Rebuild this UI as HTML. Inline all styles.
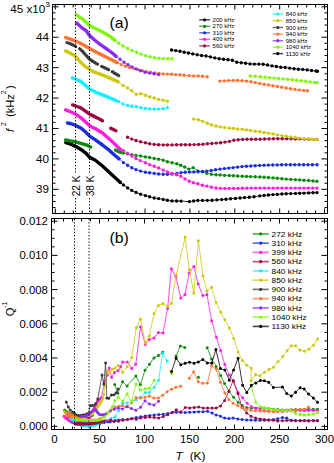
<!DOCTYPE html><html><head><meta charset="utf-8"><style>html,body{margin:0;padding:0;background:#fff;overflow:hidden}svg{display:block}text{font-family:"Liberation Sans",sans-serif}</style></head><body>
<svg width="334" height="463" viewBox="0 0 334 463">
<rect width="334" height="463" fill="#fff"/>
<polyline points="65.8,142.6 69.2,143.5 75.1,146.1 80.9,149.4 86.1,153.3 89.7,157.4 95,160 102.5,166 110,173 117.4,179.7 120.4,182.4" fill="none" stroke="#000000" stroke-width="3.4" stroke-linecap="round" stroke-linejoin="round"/><polyline points="120.4,182.4 123.4,184.9 127.6,187.9 131.8,190.4 136,192.5 140.6,194.2 145.4,195.6 149.6,196.7 154.2,198 158.6,198.6 163.2,199.4 167.4,200.3 172,200.9 176.6,201 181,201.1" fill="none" stroke="#000000" stroke-width="0.8"/><path d="M120.4 182.4h0M123.4 184.9h0M127.6 187.9h0M131.8 190.4h0M136 192.5h0M140.6 194.2h0M145.4 195.6h0M149.6 196.7h0M154.2 198h0M158.6 198.6h0M163.2 199.4h0M167.4 200.3h0M172 200.9h0M176.6 201h0M181 201.1h0" fill="none" stroke="#000000" stroke-width="3.4" stroke-linecap="round"/><polyline points="181,201.1 189.4,201.6" fill="none" stroke="#000000" stroke-width="0.8"/><polyline points="189.4,201.6 193.6,201 197.8,200.4 202.5,200.4 207.3,200.4 212.1,200.3 216.9,199.9 221.7,199.6 226,199.2 230.6,198.7 235.4,198.4 240.1,198 244.5,197.6 249.3,197.2 254,196.8 259.8,195.9 264.1,195.4 268.4,195 273,194.6 277.3,194.4 281.9,194 286.2,193.7 290.8,193.6 295.4,193.4 299.7,193.2 304,193.1 308.6,192.9 313,192.7 317,192.6" fill="none" stroke="#000000" stroke-width="0.8"/><path d="M189.4 201.6h0M193.6 201h0M197.8 200.4h0M202.5 200.4h0M207.3 200.4h0M212.1 200.3h0M216.9 199.9h0M221.7 199.6h0M226 199.2h0M230.6 198.7h0M235.4 198.4h0M240.1 198h0M244.5 197.6h0M249.3 197.2h0M254 196.8h0M259.8 195.9h0M264.1 195.4h0M268.4 195h0M273 194.6h0M277.3 194.4h0M281.9 194h0M286.2 193.7h0M290.8 193.6h0M295.4 193.4h0M299.7 193.2h0M304 193.1h0M308.6 192.9h0M313 192.7h0M317 192.6h0" fill="none" stroke="#000000" stroke-width="3.4" stroke-linecap="round"/>
<polyline points="65.6,139.9 70.5,141 75.7,141.9 80.9,143.3 86.1,144.8 90.6,147" fill="none" stroke="#0a8c0a" stroke-width="3.4" stroke-linecap="round" stroke-linejoin="round"/><polyline points="115.6,150.1 120.4,152.3" fill="none" stroke="#0a8c0a" stroke-width="3.4" stroke-linecap="round" stroke-linejoin="round"/><polyline points="120.4,152.3 123.4,153.1 127.6,153.9 131.8,154.8 136,155.4 140.6,156 145.4,156.9 149.6,157.5 154.2,158.5 158.6,159.2 163.2,160.2 167.4,161.7 172,162.7 176.8,163.8 180.6,165.2 184.6,167 188.8,169.1 193.2,167.6 197.8,171 202.4,171.8 206.8,173.3 211.4,174.3 216,174.8 220.2,175 224.6,175.4 229.3,175.5 233.4,175.8 237.6,176 242.3,176.3 246.5,176.4 250.6,176.6 255.2,176.7 259.8,177 264.1,177.2 268.4,177.5 273,177.9 277.3,178.2 281.9,178.7 286.2,179.1 290.8,179.4 295.4,179.7 299.7,179.9 304,180.2 308.6,180.5 313,181 317,181.2" fill="none" stroke="#0a8c0a" stroke-width="0.8"/><path d="M120.4 152.3h0M123.4 153.1h0M127.6 153.9h0M131.8 154.8h0M136 155.4h0M140.6 156h0M145.4 156.9h0M149.6 157.5h0M154.2 158.5h0M158.6 159.2h0M163.2 160.2h0M167.4 161.7h0M172 162.7h0M176.8 163.8h0M180.6 165.2h0M184.6 167h0M188.8 169.1h0M193.2 167.6h0M197.8 171h0M202.4 171.8h0M206.8 173.3h0M211.4 174.3h0M216 174.8h0M220.2 175h0M224.6 175.4h0M229.3 175.5h0M233.4 175.8h0M237.6 176h0M242.3 176.3h0M246.5 176.4h0M250.6 176.6h0M255.2 176.7h0M259.8 177h0M264.1 177.2h0M268.4 177.5h0M273 177.9h0M277.3 178.2h0M281.9 178.7h0M286.2 179.1h0M290.8 179.4h0M295.4 179.7h0M299.7 179.9h0M304 180.2h0M308.6 180.5h0M313 181h0M317 181.2h0" fill="none" stroke="#0a8c0a" stroke-width="3.4" stroke-linecap="round"/>
<polyline points="67.5,123 70.5,123.5 75.7,125.4 80.9,128 86.1,132.5 90,136.4 95,139.7 102.5,145 110,150.9 114.5,155 118.9,158.7" fill="none" stroke="#1a2ee0" stroke-width="3.4" stroke-linecap="round" stroke-linejoin="round"/><polyline points="118.9,158.7 123.4,162.6 127.6,165.2 131.8,167.8 136,169.6 140.6,171.1 145.4,172.2 149.6,172.8 154.2,173.4 158.6,174 163.2,174.2 167.4,174.2 172,174 176.8,173.5 181,172.6 185.2,172.2 189.6,172.1 193.8,171.9 198.2,171.7 202.6,171.5 206.8,171.1 211.2,170.5 215.6,169.8 220,169.1 224.4,168.6 228.8,168.1 233.2,167.6 237.6,167.1 242,166.6 246.4,166.2 250.8,166 255.2,165.7 259.6,165.4 264,165.2 268.4,165.1 272.8,165 277.2,164.9 281.6,164.8 286,164.7 290.4,164.7 294.8,164.7 299.2,164.7 303.6,164.7 308,164.7 312.4,164.7 317,164.7" fill="none" stroke="#1a2ee0" stroke-width="0.8"/><path d="M118.9 158.7h0M123.4 162.6h0M127.6 165.2h0M131.8 167.8h0M136 169.6h0M140.6 171.1h0M145.4 172.2h0M149.6 172.8h0M154.2 173.4h0M158.6 174h0M163.2 174.2h0M167.4 174.2h0M172 174h0M176.8 173.5h0M181 172.6h0M185.2 172.2h0M189.6 172.1h0M193.8 171.9h0M198.2 171.7h0M202.6 171.5h0M206.8 171.1h0M211.2 170.5h0M215.6 169.8h0M220 169.1h0M224.4 168.6h0M228.8 168.1h0M233.2 167.6h0M237.6 167.1h0M242 166.6h0M246.4 166.2h0M250.8 166h0M255.2 165.7h0M259.6 165.4h0M264 165.2h0M268.4 165.1h0M272.8 165h0M277.2 164.9h0M281.6 164.8h0M286 164.7h0M290.4 164.7h0M294.8 164.7h0M299.2 164.7h0M303.6 164.7h0M308 164.7h0M312.4 164.7h0M317 164.7h0" fill="none" stroke="#1a2ee0" stroke-width="3.4" stroke-linecap="round"/>
<polyline points="65.6,109.8 69.2,111.2 75.1,113.8 80.9,117.7 86.1,122.6 90,126.1 95,128.5 102.5,133 110,139.5 115,144.2 120.4,149.4" fill="none" stroke="#ff1ee0" stroke-width="3.4" stroke-linecap="round" stroke-linejoin="round"/><polyline points="120.4,149.4 123.4,150.6 127.6,153.3 131.8,156 136,158.5 140.2,160.6 145.4,162.7 149.6,164.6 154.2,166.3 158.6,168 163.2,170.1 167.4,172 172,173.5 176.6,174.7 180.8,176.2 185,178.9 189.2,181.2 193.4,182.7 197.8,183.8 202.4,185.2 206.8,186.1 211.4,187.3 216,188 220.4,188.4 224.8,188.4 229.2,188.4 233.6,188.4 238,188.4 242.4,188.3 246.8,188.2 251.2,188.1 255.6,188.1 260,188.1 264.4,188.1 268.8,188.1 273.2,188.1 277.6,188.1 282,188.1 286.4,188.1 290.8,188.1 295.2,188.1 299.6,188.1 304,188.1 308.4,188.1 312.8,188.1 317,188.1" fill="none" stroke="#ff1ee0" stroke-width="0.8"/><path d="M120.4 149.4h0M123.4 150.6h0M127.6 153.3h0M131.8 156h0M136 158.5h0M140.2 160.6h0M145.4 162.7h0M149.6 164.6h0M154.2 166.3h0M158.6 168h0M163.2 170.1h0M167.4 172h0M172 173.5h0M176.6 174.7h0M180.8 176.2h0M185 178.9h0M189.2 181.2h0M193.4 182.7h0M197.8 183.8h0M202.4 185.2h0M206.8 186.1h0M211.4 187.3h0M216 188h0M220.4 188.4h0M224.8 188.4h0M229.2 188.4h0M233.6 188.4h0M238 188.4h0M242.4 188.3h0M246.8 188.2h0M251.2 188.1h0M255.6 188.1h0M260 188.1h0M264.4 188.1h0M268.8 188.1h0M273.2 188.1h0M277.6 188.1h0M282 188.1h0M286.4 188.1h0M290.8 188.1h0M295.2 188.1h0M299.6 188.1h0M304 188.1h0M308.4 188.1h0M312.8 188.1h0M317 188.1h0" fill="none" stroke="#ff1ee0" stroke-width="3.4" stroke-linecap="round"/>
<polyline points="72.6,104.9 75.7,106 80.9,107.9 86.1,111.6 90,114.4 94.5,116.6 98.5,118.6 102.5,120.7" fill="none" stroke="#9c0a44" stroke-width="3.4" stroke-linecap="round" stroke-linejoin="round"/><polyline points="110.7,128.2 115.9,130.7" fill="none" stroke="#9c0a44" stroke-width="3.4" stroke-linecap="round" stroke-linejoin="round"/><polyline points="127.6,137.2 131.8,139.1 136,140.5 140.6,141.8 145.4,142.8 149.6,143.7 154.2,144.4 158.6,144.8 163.2,144.9 167.4,144.9 172,144.9 176.6,144.8 181,144.7 185.4,144.7 189.8,144.7 194.2,144.6 198.6,144.5 203,144.2 207.4,143.8 211.8,143.5 216.2,143.1 220.6,142.7 225,142.1 229.4,141.4 233.8,140.3 238.2,139.7 242.6,139.4 247,139.2 251.4,139.3 255.8,139.3 260.2,139.2 264.6,139 269,138.9 273.4,138.8 277.8,138.7 282.2,138.7 286.6,138.7 291,138.8 295.4,138.9 299.8,138.9 304.2,139.1 308.6,139.3 313,139.4 317,139.4" fill="none" stroke="#9c0a44" stroke-width="0.8"/><path d="M127.6 137.2h0M131.8 139.1h0M136 140.5h0M140.6 141.8h0M145.4 142.8h0M149.6 143.7h0M154.2 144.4h0M158.6 144.8h0M163.2 144.9h0M167.4 144.9h0M172 144.9h0M176.6 144.8h0M181 144.7h0M185.4 144.7h0M189.8 144.7h0M194.2 144.6h0M198.6 144.5h0M203 144.2h0M207.4 143.8h0M211.8 143.5h0M216.2 143.1h0M220.6 142.7h0M225 142.1h0M229.4 141.4h0M233.8 140.3h0M238.2 139.7h0M242.6 139.4h0M247 139.2h0M251.4 139.3h0M255.8 139.3h0M260.2 139.2h0M264.6 139h0M269 138.9h0M273.4 138.8h0M277.8 138.7h0M282.2 138.7h0M286.6 138.7h0M291 138.8h0M295.4 138.9h0M299.8 138.9h0M304.2 139.1h0M308.6 139.3h0M313 139.4h0M317 139.4h0" fill="none" stroke="#9c0a44" stroke-width="3.4" stroke-linecap="round"/>
<polyline points="72.3,77.9 74,78.5 77.2,79.9 80.3,81 84,84.2 89.7,89 96,92.3 104.4,95.6 112,98.8 116,100.6" fill="none" stroke="#10f0ff" stroke-width="3.4" stroke-linecap="round" stroke-linejoin="round"/><polyline points="116,100.6 118.6,101.6 123,103.9 127.6,105.4 131.8,106.3 136.4,106.8 140.8,107.6 145.4,108.4 149.6,108.9 154.2,109.1 158.6,109.1 163.2,108.7 167.4,107.6" fill="none" stroke="#10f0ff" stroke-width="0.8"/><path d="M116 100.6h0M118.6 101.6h0M123 103.9h0M127.6 105.4h0M131.8 106.3h0M136.4 106.8h0M140.8 107.6h0M145.4 108.4h0M149.6 108.9h0M154.2 109.1h0M158.6 109.1h0M163.2 108.7h0M167.4 107.6h0" fill="none" stroke="#10f0ff" stroke-width="3.4" stroke-linecap="round"/>
<polyline points="65.5,50.9 70,53 74.8,55.8 78.2,59.3 81,62.8 85,66.3 89.7,69.4 91,70.6 97,73 104.4,75.7 111,78.6 118,81.8" fill="none" stroke="#cdc80a" stroke-width="3.4" stroke-linecap="round" stroke-linejoin="round"/><polyline points="118,81.8 123.2,85.4 127.6,87.9 131.8,90.8 136.2,94.2 140.8,93.8 145.4,95.3 149.6,96.8 154.2,98 158.6,99.5 163.2,100.3 167.4,101.3" fill="none" stroke="#cdc80a" stroke-width="0.8"/><path d="M118 81.8h0M123.2 85.4h0M127.6 87.9h0M131.8 90.8h0M136.2 94.2h0M140.8 93.8h0M145.4 95.3h0M149.6 96.8h0M154.2 98h0M158.6 99.5h0M163.2 100.3h0M167.4 101.3h0" fill="none" stroke="#cdc80a" stroke-width="3.4" stroke-linecap="round"/><polyline points="193.6,119.1 198.4,119.7 202.6,121.2 207.2,123.3 211.4,124.8 216,126 220.2,126.9 224.6,127.5 229.3,128.1 233.4,128.5 237.6,129 242.3,129.3 246.5,129.9 250.6,130.5 255.2,131.2 259.8,131.8 264.1,132.5 268.4,133.1 273,133.9 277.3,134.9 281.9,135.6 286.2,136.3 290.8,136.9 295.4,137.4 299.7,138.1 304,138.6 308.6,138.9 313,139.4 317,139.5" fill="none" stroke="#cdc80a" stroke-width="0.8"/><path d="M193.6 119.1h0M198.4 119.7h0M202.6 121.2h0M207.2 123.3h0M211.4 124.8h0M216 126h0M220.2 126.9h0M224.6 127.5h0M229.3 128.1h0M233.4 128.5h0M237.6 129h0M242.3 129.3h0M246.5 129.9h0M250.6 130.5h0M255.2 131.2h0M259.8 131.8h0M264.1 132.5h0M268.4 133.1h0M273 133.9h0M277.3 134.9h0M281.9 135.6h0M286.2 136.3h0M290.8 136.9h0M295.4 137.4h0M299.7 138.1h0M304 138.6h0M308.6 138.9h0M313 139.4h0M317 139.5h0" fill="none" stroke="#cdc80a" stroke-width="3.4" stroke-linecap="round"/>
<polyline points="67,42.6 70.5,43.8 73,45 75.8,46.5" fill="none" stroke="#3a3a3a" stroke-width="3.1" stroke-linecap="round" stroke-linejoin="round"/><polyline points="79.6,48.7 82,50.8 85.5,54.7 89,58.6 92.5,61.2 96,63.3 97.6,64.1" fill="none" stroke="#3a3a3a" stroke-width="3.1" stroke-linecap="round" stroke-linejoin="round"/><polyline points="101.6,66.3 106,68.4 108.6,69.7" fill="none" stroke="#3a3a3a" stroke-width="3.1" stroke-linecap="round" stroke-linejoin="round"/><polyline points="112.2,71.6 114,72.8 118.8,75.7" fill="none" stroke="#3a3a3a" stroke-width="3.1" stroke-linecap="round" stroke-linejoin="round"/>
<polyline points="65.6,37.6 69,38.6 74.9,40.8 80,43 85,45.7 89.7,48.6 95,51.6 103,55.6 112,60 117,62.5" fill="none" stroke="#ff7434" stroke-width="3.4" stroke-linecap="round" stroke-linejoin="round"/><polyline points="117,62.5 121.2,64.6 125.4,66.3 129.6,67.6 133.8,68.6 138,69.6 142.2,70.6 146.4,71.6 150.6,72.3 154.8,73 159,73.5 163.2,73.9 167.4,74.1 171.6,74.3 175.8,74.6 180,74.8 184.2,75.2 189,75.6 193.6,75.9 198.2,76 202.6,76.3 207.2,76.7" fill="none" stroke="#ff7434" stroke-width="0.8"/><path d="M117 62.5h0M121.2 64.6h0M125.4 66.3h0M129.6 67.6h0M133.8 68.6h0M138 69.6h0M142.2 70.6h0M146.4 71.6h0M150.6 72.3h0M154.8 73h0M159 73.5h0M163.2 73.9h0M167.4 74.1h0M171.6 74.3h0M175.8 74.6h0M180 74.8h0M184.2 75.2h0M189 75.6h0M193.6 75.9h0M198.2 76h0M202.6 76.3h0M207.2 76.7h0" fill="none" stroke="#ff7434" stroke-width="3.4" stroke-linecap="round"/><polyline points="219.8,81.1 224.4,80.9 228.6,80.6 233.2,80.4 237.6,80.5 242.1,80.8 246.5,81.1 250.9,81.8 255.3,82.6 259.7,83.5 264.1,84.2 268.5,84.9 272.9,85.7 277.3,86.5 281.7,87.2 286.1,88 290.5,88.7 294.9,89.4 299.3,89.9 303.7,90.4 307.4,90.8" fill="none" stroke="#ff7434" stroke-width="0.8"/><path d="M219.8 81.1h0M224.4 80.9h0M228.6 80.6h0M233.2 80.4h0M237.6 80.5h0M242.1 80.8h0M246.5 81.1h0M250.9 81.8h0M255.3 82.6h0M259.7 83.5h0M264.1 84.2h0M268.5 84.9h0M272.9 85.7h0M277.3 86.5h0M281.7 87.2h0M286.1 88h0M290.5 88.7h0M294.9 89.4h0M299.3 89.9h0M303.7 90.4h0M307.4 90.8h0" fill="none" stroke="#ff7434" stroke-width="3.4" stroke-linecap="round"/>
<polyline points="76.6,23 79,25.2 82,27.8 86,30.5 89.5,35.5 94,39.5 98.5,43.2 103,46.4 107.5,49.5 112,52.8 116,56.2" fill="none" stroke="#8a2cf2" stroke-width="3.4" stroke-linecap="round" stroke-linejoin="round"/><polyline points="116,56.2 120,59.3 124,62.3 128,64.8 132,66.9 136.1,68.9 140.5,70.8 145,72.2 149.5,73.1 154,73.8 158.6,74.6" fill="none" stroke="#8a2cf2" stroke-width="0.8"/><path d="M116 56.2h0M120 59.3h0M124 62.3h0M128 64.8h0M132 66.9h0M136.1 68.9h0M140.5 70.8h0M145 72.2h0M149.5 73.1h0M154 73.8h0M158.6 74.6h0" fill="none" stroke="#8a2cf2" stroke-width="3.4" stroke-linecap="round"/>
<polyline points="76.2,14.8 78.5,16.3 81.6,18.4 85,21.2 88.7,24.7 89.6,25.6 94,27.7 103,32.2 110,36.4 114.8,40.2" fill="none" stroke="#80f808" stroke-width="3.4" stroke-linecap="round" stroke-linejoin="round"/><polyline points="114.8,40.2 118.6,43.2 123.1,46 127.6,48.5 132,50.5 136.6,52.3 141,54.1 145.5,55.6 150,56.8 154.5,57.7 159,58.3 163.5,58.6 168,58.7 172,58.7" fill="none" stroke="#80f808" stroke-width="0.8"/><path d="M114.8 40.2h0M118.6 43.2h0M123.1 46h0M127.6 48.5h0M132 50.5h0M136.6 52.3h0M141 54.1h0M145.5 55.6h0M150 56.8h0M154.5 57.7h0M159 58.3h0M163.5 58.6h0M168 58.7h0M172 58.7h0" fill="none" stroke="#80f808" stroke-width="3.4" stroke-linecap="round"/><polyline points="250.1,76 255.2,76.3 260.3,76.8 265.1,77.3 269.6,77.6 274.1,78.1 278.6,78.5 283.1,78.9 287.6,79.3 292.1,79.7 296.6,80.2 301.1,80.7 305.6,81.3 310.1,81.9 314.6,82.4 317.2,82.7" fill="none" stroke="#80f808" stroke-width="0.8"/><path d="M250.1 76h0M255.2 76.3h0M260.3 76.8h0M265.1 77.3h0M269.6 77.6h0M274.1 78.1h0M278.6 78.5h0M283.1 78.9h0M287.6 79.3h0M292.1 79.7h0M296.6 80.2h0M301.1 80.7h0M305.6 81.3h0M310.1 81.9h0M314.6 82.4h0M317.2 82.7h0" fill="none" stroke="#80f808" stroke-width="3.4" stroke-linecap="round"/>
<polyline points="171.6,50 175.8,50.6 180,51.3 184.2,52.2 188.4,53 192.8,53.9 197.2,54.7 201.6,55.5 206,56 210.4,56.9 214.8,57.9 219.2,58.7 223.6,59.3 228,59.8 232.4,60.2 236.8,62.3 241.2,62.7 245.6,63.3 250,63.9 254.4,64.1 258.8,64.1 263.2,64.3 267.6,65 272,65.9 276.4,66.5 280.8,67.2 285.2,67.5 289.6,68.1 294,68.8 298.4,69.2 302.8,69.4 307.2,69.9 311.6,70.5 316,71 317.5,71.2" fill="none" stroke="#000000" stroke-width="0.8"/><path d="M171.6 50h0M175.8 50.6h0M180 51.3h0M184.2 52.2h0M188.4 53h0M192.8 53.9h0M197.2 54.7h0M201.6 55.5h0M206 56h0M210.4 56.9h0M214.8 57.9h0M219.2 58.7h0M223.6 59.3h0M228 59.8h0M232.4 60.2h0M236.8 62.3h0M241.2 62.7h0M245.6 63.3h0M250 63.9h0M254.4 64.1h0M258.8 64.1h0M263.2 64.3h0M267.6 65h0M272 65.9h0M276.4 66.5h0M280.8 67.2h0M285.2 67.5h0M289.6 68.1h0M294 68.8h0M298.4 69.2h0M302.8 69.4h0M307.2 69.9h0M311.6 70.5h0M316 71h0M317.5 71.2h0" fill="none" stroke="#000000" stroke-width="3.4" stroke-linecap="round"/>
<line x1="199.2" y1="19.8" x2="210" y2="19.8" stroke="#000000" stroke-width="1.4" stroke-opacity="0.75"/>
<circle cx="204.6" cy="19.8" r="1.6" fill="#000000"/>
<text transform="translate(212.6,21.96) scale(0.99,1)" font-size="6" fill="#000">200 kHz</text>
<line x1="199.2" y1="26.3" x2="210" y2="26.3" stroke="#0a8c0a" stroke-width="1.4" stroke-opacity="0.75"/>
<circle cx="204.6" cy="26.3" r="1.6" fill="#0a8c0a"/>
<text transform="translate(212.6,28.46) scale(0.99,1)" font-size="6" fill="#000">270 kHz</text>
<line x1="199.2" y1="32.8" x2="210" y2="32.8" stroke="#1a2ee0" stroke-width="1.4" stroke-opacity="0.75"/>
<circle cx="204.6" cy="32.8" r="1.6" fill="#1a2ee0"/>
<text transform="translate(212.6,34.96) scale(0.99,1)" font-size="6" fill="#000">310 kHz</text>
<line x1="199.2" y1="39.3" x2="210" y2="39.3" stroke="#ff1ee0" stroke-width="1.4" stroke-opacity="0.75"/>
<circle cx="204.6" cy="39.3" r="1.6" fill="#ff1ee0"/>
<text transform="translate(212.6,41.46) scale(0.99,1)" font-size="6" fill="#000">400 kHz</text>
<line x1="199.2" y1="45.9" x2="210" y2="45.9" stroke="#9c0a44" stroke-width="1.4" stroke-opacity="0.75"/>
<circle cx="204.6" cy="45.9" r="1.6" fill="#9c0a44"/>
<text transform="translate(212.6,48.06) scale(0.99,1)" font-size="6" fill="#000">560 kHz</text>
<line x1="272.7" y1="14" x2="283" y2="14" stroke="#10f0ff" stroke-width="1.4" stroke-opacity="0.75"/>
<circle cx="277.8" cy="14" r="1.6" fill="#10f0ff"/>
<text transform="translate(285.8,16.16) scale(0.99,1)" font-size="6" fill="#000">840 kHz</text>
<line x1="272.7" y1="20.7" x2="283" y2="20.7" stroke="#cdc80a" stroke-width="1.4" stroke-opacity="0.75"/>
<circle cx="277.8" cy="20.7" r="1.6" fill="#cdc80a"/>
<text transform="translate(285.8,22.86) scale(0.99,1)" font-size="6" fill="#000">850 kHz</text>
<line x1="272.7" y1="27.5" x2="283" y2="27.5" stroke="#3a3a3a" stroke-width="1.4" stroke-opacity="0.75"/>
<circle cx="277.8" cy="27.5" r="1.6" fill="#3a3a3a"/>
<text transform="translate(285.8,29.66) scale(0.99,1)" font-size="6" fill="#000">900 kHz</text>
<line x1="272.7" y1="34.1" x2="283" y2="34.1" stroke="#ff7434" stroke-width="1.4" stroke-opacity="0.75"/>
<circle cx="277.8" cy="34.1" r="1.6" fill="#ff7434"/>
<text transform="translate(285.8,36.26) scale(0.99,1)" font-size="6" fill="#000">940 kHz</text>
<line x1="272.7" y1="40.7" x2="283" y2="40.7" stroke="#8a2cf2" stroke-width="1.4" stroke-opacity="0.75"/>
<circle cx="277.8" cy="40.7" r="1.6" fill="#8a2cf2"/>
<text transform="translate(285.8,42.86) scale(0.99,1)" font-size="6" fill="#000">980 kHz</text>
<line x1="272.7" y1="47.2" x2="283" y2="47.2" stroke="#80f808" stroke-width="1.4" stroke-opacity="0.75"/>
<circle cx="277.8" cy="47.2" r="1.6" fill="#80f808"/>
<text transform="translate(285.8,49.36) scale(0.99,1)" font-size="6" fill="#000">1040 kHz</text>
<line x1="272.7" y1="53.6" x2="283" y2="53.6" stroke="#000000" stroke-width="1.4" stroke-opacity="0.75"/>
<circle cx="277.8" cy="53.6" r="1.6" fill="#000000"/>
<text transform="translate(285.8,55.76) scale(0.99,1)" font-size="6" fill="#000">1130 kHz</text>
<line x1="75.5" y1="5" x2="75.5" y2="174" stroke="#000" stroke-width="1" stroke-dasharray="1.3,1.9"/>
<line x1="75.5" y1="198" x2="75.5" y2="213" stroke="#000" stroke-width="1" stroke-dasharray="1.3,1.9"/>
<line x1="89.5" y1="5" x2="89.5" y2="174" stroke="#000" stroke-width="1" stroke-dasharray="1.3,1.9"/>
<line x1="89.5" y1="198" x2="89.5" y2="213" stroke="#000" stroke-width="1" stroke-dasharray="1.3,1.9"/>
<text transform="translate(79.6,196.3) rotate(-90)" font-size="10.2" fill="#000">22 K</text>
<text transform="translate(94.0,196.3) rotate(-90)" font-size="10.2" fill="#000">38 K</text>
<rect x="52.5" y="4.5" width="275" height="209" fill="none" stroke="#000" stroke-width="1"/>
<path d="M55.3 213.5v-5M55.3 4.5v5M64.27 213.5v-3M64.27 4.5v3M73.25 213.5v-3M73.25 4.5v3M82.22 213.5v-3M82.22 4.5v3M91.2 213.5v-3M91.2 4.5v3M100.17 213.5v-5M100.17 4.5v5M109.15 213.5v-3M109.15 4.5v3M118.12 213.5v-3M118.12 4.5v3M127.1 213.5v-3M127.1 4.5v3M136.07 213.5v-3M136.07 4.5v3M145.05 213.5v-5M145.05 4.5v5M154.02 213.5v-3M154.02 4.5v3M163 213.5v-3M163 4.5v3M171.97 213.5v-3M171.97 4.5v3M180.95 213.5v-3M180.95 4.5v3M189.93 213.5v-5M189.93 4.5v5M198.9 213.5v-3M198.9 4.5v3M207.88 213.5v-3M207.88 4.5v3M216.85 213.5v-3M216.85 4.5v3M225.82 213.5v-3M225.82 4.5v3M234.8 213.5v-5M234.8 4.5v5M243.77 213.5v-3M243.77 4.5v3M252.75 213.5v-3M252.75 4.5v3M261.72 213.5v-3M261.72 4.5v3M270.7 213.5v-3M270.7 4.5v3M279.68 213.5v-5M279.68 4.5v5M288.65 213.5v-3M288.65 4.5v3M297.62 213.5v-3M297.62 4.5v3M306.6 213.5v-3M306.6 4.5v3M315.57 213.5v-3M315.57 4.5v3M324.55 213.5v-5M324.55 4.5v5M52.5 207.57h3M327.5 207.57h-3M52.5 201.49h3M327.5 201.49h-3M52.5 195.4h3M327.5 195.4h-3M52.5 189.32h6M327.5 189.32h-6M52.5 183.24h3M327.5 183.24h-3M52.5 177.15h3M327.5 177.15h-3M52.5 171.07h3M327.5 171.07h-3M52.5 164.98h3M327.5 164.98h-3M52.5 158.9h6M327.5 158.9h-6M52.5 152.82h3M327.5 152.82h-3M52.5 146.73h3M327.5 146.73h-3M52.5 140.65h3M327.5 140.65h-3M52.5 134.56h3M327.5 134.56h-3M52.5 128.48h6M327.5 128.48h-6M52.5 122.4h3M327.5 122.4h-3M52.5 116.31h3M327.5 116.31h-3M52.5 110.23h3M327.5 110.23h-3M52.5 104.14h3M327.5 104.14h-3M52.5 98.06h6M327.5 98.06h-6M52.5 91.98h3M327.5 91.98h-3M52.5 85.89h3M327.5 85.89h-3M52.5 79.81h3M327.5 79.81h-3M52.5 73.72h3M327.5 73.72h-3M52.5 67.64h6M327.5 67.64h-6M52.5 61.56h3M327.5 61.56h-3M52.5 55.47h3M327.5 55.47h-3M52.5 49.39h3M327.5 49.39h-3M52.5 43.3h3M327.5 43.3h-3M52.5 37.22h6M327.5 37.22h-6M52.5 31.14h3M327.5 31.14h-3M52.5 25.05h3M327.5 25.05h-3M52.5 18.97h3M327.5 18.97h-3M52.5 12.88h3M327.5 12.88h-3M52.5 6.8h6M327.5 6.8h-6" stroke="#000" stroke-width="1" fill="none"/>
<text transform="translate(49,193.32) scale(1.06,1)" text-anchor="end" font-size="11" fill="#000">39</text>
<text transform="translate(49,162.9) scale(1.06,1)" text-anchor="end" font-size="11" fill="#000">40</text>
<text transform="translate(49,132.48) scale(1.06,1)" text-anchor="end" font-size="11" fill="#000">41</text>
<text transform="translate(49,102.06) scale(1.06,1)" text-anchor="end" font-size="11" fill="#000">42</text>
<text transform="translate(49,71.64) scale(1.06,1)" text-anchor="end" font-size="11" fill="#000">43</text>
<text transform="translate(49,41.22) scale(1.06,1)" text-anchor="end" font-size="11" fill="#000">44</text>
<text transform="translate(10.3,13.4) scale(1.06,1)" font-size="11.0" fill="#000">45 x10<tspan dy="-6.8" font-size="8.0">3</tspan></text>
<text transform="translate(109.4,27.5) scale(1.1,1)" font-size="14.4" fill="#000">(a)</text>
<g transform="translate(14.2,0) rotate(-90)" font-size="11.2" fill="#000"><text x="-131.9" y="0" font-style="italic">f</text><text x="-126.1" y="-8.2" font-size="6.6">2</text><text x="-117.1" y="0">(kHz</text><text x="-94.2" y="-8.2" font-size="6.6">2</text><text x="-88.9" y="0">)</text></g>
<polyline points="64.5,410 67,411.8 70,413.6 74,415.2 78,416.2 82,416.8 86,417 90,416.5 92.5,415.5" fill="none" stroke="#0a8c0a" stroke-width="2.7" stroke-linecap="round" stroke-linejoin="round"/><polyline points="114.6,384.5 117.8,393.3 122.5,381.8 127.1,385.9 135.9,375.9 140.4,384.8 145,370.2 149.4,364.2 154,357.9 158.4,355.5 162.8,352.2" fill="none" stroke="#0a8c0a" stroke-width="0.8"/><path d="M114.6 384.5h0M117.8 393.3h0M122.5 381.8h0M127.1 385.9h0M135.9 375.9h0M140.4 384.8h0M145 370.2h0M149.4 364.2h0M154 357.9h0M158.4 355.5h0M162.8 352.2h0" fill="none" stroke="#0a8c0a" stroke-width="3" stroke-linecap="round"/><polyline points="176.1,356 180.3,346 184.8,347.4" fill="none" stroke="#0a8c0a" stroke-width="0.8"/><path d="M176.1 356h0M180.3 346h0M184.8 347.4h0" fill="none" stroke="#0a8c0a" stroke-width="3" stroke-linecap="round"/><path d="M198.4 377.3h0" fill="none" stroke="#0a8c0a" stroke-width="3" stroke-linecap="round"/><polyline points="207.2,347.7 211.6,359 216.1,366.5 220.7,375.5 224.5,383.5 229.1,391.2 233.6,397.3 238.1,402.3 242.2,405.6 246.8,407.8 251.4,408 255.8,407.9 260.3,407.8 264.4,408.1 268.7,408.6 273.4,409.2 277.7,409.5 282.4,409.9 286.7,409.9 291.3,409.8 295.6,409.5 300,409.4 304.3,409.4 308.6,409.3 313.2,409.3 317.5,409.3" fill="none" stroke="#0a8c0a" stroke-width="0.8"/><path d="M207.2 347.7h0M211.6 359h0M216.1 366.5h0M220.7 375.5h0M224.5 383.5h0M229.1 391.2h0M233.6 397.3h0M238.1 402.3h0M242.2 405.6h0M246.8 407.8h0M251.4 408h0M255.8 407.9h0M260.3 407.8h0M264.4 408.1h0M268.7 408.6h0M273.4 409.2h0M277.7 409.5h0M282.4 409.9h0M286.7 409.9h0M291.3 409.8h0M295.6 409.5h0M300 409.4h0M304.3 409.4h0M308.6 409.3h0M313.2 409.3h0M317.5 409.3h0" fill="none" stroke="#0a8c0a" stroke-width="3" stroke-linecap="round"/>
<polyline points="66.5,417 69,420.5 72,422.3 75,423 80,423.6 85,424 90,424.1 95,424 98,423.6 100.5,423.3" fill="none" stroke="#1a2ee0" stroke-width="2.7" stroke-linecap="round" stroke-linejoin="round"/><polyline points="100.5,423.3 104,422.6 107.5,421.8 110.1,421.7 115,420.5 118.5,420 122.7,419.4 127.5,419.6 131.7,418.4 136.2,417.6 140.7,416.8 145.2,416 149.7,415.4 154.2,415 158.7,414.6 163.2,414.3 167.7,413.6 172.2,412.5 176.4,412.2 180.7,412.3 185.2,412.4 189.7,412.3 194.2,412 198.6,411.7 203.1,411.7 207.6,411.3 212.1,413.1 216.2,414.9 220.5,416.3 224.6,418.1 228.8,418.5 233.1,418.1 237.8,418.9 242.1,419.6 246.7,419.9 251,420 255.5,420.2 260,420.2 264.4,420.2 268.7,420 273.4,419.5 277.7,418.8 282.4,417.6 286.7,418.1 291.3,420.2 295.5,420.5 300.2,420.4 304.4,420.5 308.6,420.6 313.4,420.6 317.5,420.5" fill="none" stroke="#1a2ee0" stroke-width="0.8"/><path d="M104 422.6h0M107.5 421.8h0M110.1 421.7h0M115 420.5h0M118.5 420h0M122.7 419.4h0M127.5 419.6h0M131.7 418.4h0M136.2 417.6h0M140.7 416.8h0M145.2 416h0M149.7 415.4h0M154.2 415h0M158.7 414.6h0M163.2 414.3h0M167.7 413.6h0M172.2 412.5h0M176.4 412.2h0M180.7 412.3h0M185.2 412.4h0M189.7 412.3h0M194.2 412h0M198.6 411.7h0M203.1 411.7h0M207.6 411.3h0M212.1 413.1h0M216.2 414.9h0M220.5 416.3h0M224.6 418.1h0M228.8 418.5h0M233.1 418.1h0M237.8 418.9h0M242.1 419.6h0M246.7 419.9h0M251 420h0M255.5 420.2h0M260 420.2h0M264.4 420.2h0M268.7 420h0M273.4 419.5h0M277.7 418.8h0M282.4 417.6h0M286.7 418.1h0M291.3 420.2h0M295.5 420.5h0M300.2 420.4h0M304.4 420.5h0M308.6 420.6h0M313.4 420.6h0M317.5 420.5h0" fill="none" stroke="#1a2ee0" stroke-width="3" stroke-linecap="round"/>
<polyline points="63.8,416.2 66,418.7 69,420.4 71.5,421.2 75,421.9 80,422.2 85,421.2 89,418.5 92,413 94,408.5 95.8,404.4 98.6,400.2 101.6,397.5" fill="none" stroke="#ff1ee0" stroke-width="2.7" stroke-linecap="round" stroke-linejoin="round"/><polyline points="101.6,397.5 104.4,381.4 107.4,375.1 109.2,368.1 111.6,377.2 114.4,372.5 118.1,370.5 120.5,366.8 122.7,362.1 127.2,362.1 131.7,368.5 135.8,364.3 140.5,326.8 145.2,344.4 149.3,339.4 154,338.1 158.4,332.5 163,333.1 167.6,308.4 171.4,268.8 175.9,276.6 180.8,298.1 185,294.6 189.2,273 193.9,266.4 198.2,284.1 202.8,295.6 207,294.6 211.6,320.8 216.4,337.3 220.6,350.5 224.8,364.6 229.3,375 233.6,381.5 238.1,392.5 242.6,397.8 247.1,403.2 251.6,406.8 255.8,408.6 260,409.8 264.4,410.6 268.7,411.1 273.4,411.5 277.7,411.6 282.4,411.4 286.7,411.1 291.3,410.8 295.6,410.6 300.2,410.5 304.4,410.5 308.6,410.4 313.4,410.4 317.5,410.5" fill="none" stroke="#ff1ee0" stroke-width="0.8"/><path d="M104.4 381.4h0M107.4 375.1h0M109.2 368.1h0M111.6 377.2h0M114.4 372.5h0M118.1 370.5h0M120.5 366.8h0M122.7 362.1h0M127.2 362.1h0M131.7 368.5h0M135.8 364.3h0M140.5 326.8h0M145.2 344.4h0M149.3 339.4h0M154 338.1h0M158.4 332.5h0M163 333.1h0M167.6 308.4h0M171.4 268.8h0M175.9 276.6h0M180.8 298.1h0M185 294.6h0M189.2 273h0M193.9 266.4h0M198.2 284.1h0M202.8 295.6h0M207 294.6h0M211.6 320.8h0M216.4 337.3h0M220.6 350.5h0M224.8 364.6h0M229.3 375h0M233.6 381.5h0M238.1 392.5h0M242.6 397.8h0M247.1 403.2h0M251.6 406.8h0M255.8 408.6h0M260 409.8h0M264.4 410.6h0M268.7 411.1h0M273.4 411.5h0M277.7 411.6h0M282.4 411.4h0M286.7 411.1h0M291.3 410.8h0M295.6 410.6h0M300.2 410.5h0M304.4 410.5h0M308.6 410.4h0M313.4 410.4h0M317.5 410.5h0" fill="none" stroke="#ff1ee0" stroke-width="3" stroke-linecap="round"/>
<polyline points="70.5,418.5 73,420 75.5,422 78.5,424.2 82,425.7 86,426.1 90,426 94,425.4 97,424.5 100,422.8" fill="none" stroke="#10f0ff" stroke-width="2.7" stroke-linecap="round" stroke-linejoin="round"/><polyline points="100,422.8 103,421.3 106.6,420.2 111,418.6 115,416.8 118.6,410.5 122.3,403.2 127.2,403.1 131.9,402 136.4,399.5 140.5,397.2 145.3,392.4 149.4,392.5 154.1,387.3 158.5,380.3 162.8,353.5 167.2,361" fill="none" stroke="#10f0ff" stroke-width="0.8"/><path d="M103 421.3h0M106.6 420.2h0M111 418.6h0M115 416.8h0M118.6 410.5h0M122.3 403.2h0M127.2 403.1h0M131.9 402h0M136.4 399.5h0M140.5 397.2h0M145.3 392.4h0M149.4 392.5h0M154.1 387.3h0M158.5 380.3h0M162.8 353.5h0M167.2 361h0" fill="none" stroke="#10f0ff" stroke-width="3" stroke-linecap="round"/>
<polyline points="75,423.7 80,424 85,423.9 90,423.6 95,423 98,422.4 101.5,421.7" fill="none" stroke="#9c0a44" stroke-width="3.4" stroke-linecap="round" stroke-linejoin="round"/><polyline points="101.5,421.7 104.5,421 110.7,420 113.9,421.4 118.5,421.2 123,420.3 127.5,419.5 131.7,418.7 136.2,419.2 140.7,418.1 145.2,417.4 149.7,417 154.2,417.4 158.7,418.1 163.2,416.5 167.7,414.7 172.2,412.5 176.2,409.8 180.7,412 185.2,407.5 189.7,408 194.2,407.5 198.7,407.1 203.1,408.1 207.6,408.1 212.1,408.1 216.2,408.1 220.5,405.9 224.6,400.5 228.8,391.6 233.1,380.4 237.8,393.4 242.1,407.5 246.7,413.1 251,416.3 255.5,418 260.3,418.9 264.4,419.4 268.7,419.9 273.4,420.3 277.7,421 282.4,420.7 286.7,420.4 291.3,420.5 295.5,420.7 300.2,420.8 304.4,420.7 308.6,420.9 313.4,420.8 317.5,420.8" fill="none" stroke="#9c0a44" stroke-width="0.8"/><path d="M104.5 421h0M110.7 420h0M113.9 421.4h0M118.5 421.2h0M123 420.3h0M127.5 419.5h0M131.7 418.7h0M136.2 419.2h0M140.7 418.1h0M145.2 417.4h0M149.7 417h0M154.2 417.4h0M158.7 418.1h0M163.2 416.5h0M167.7 414.7h0M172.2 412.5h0M176.2 409.8h0M180.7 412h0M185.2 407.5h0M189.7 408h0M194.2 407.5h0M198.7 407.1h0M203.1 408.1h0M207.6 408.1h0M212.1 408.1h0M216.2 408.1h0M220.5 405.9h0M224.6 400.5h0M228.8 391.6h0M233.1 380.4h0M237.8 393.4h0M242.1 407.5h0M246.7 413.1h0M251 416.3h0M255.5 418h0M260.3 418.9h0M264.4 419.4h0M268.7 419.9h0M273.4 420.3h0M277.7 421h0M282.4 420.7h0M286.7 420.4h0M291.3 420.5h0M295.5 420.7h0M300.2 420.8h0M304.4 420.7h0M308.6 420.9h0M313.4 420.8h0M317.5 420.8h0" fill="none" stroke="#9c0a44" stroke-width="3" stroke-linecap="round"/>
<polyline points="64.3,411.6 67,413 70,414.8 74,416 78,416.5 82,416.3 86,416 90,415 93.7,412.8 96.5,408.8 99,405 101.5,401.2 102.9,398.5" fill="none" stroke="#cdc80a" stroke-width="2.7" stroke-linecap="round" stroke-linejoin="round"/><polyline points="102.9,398.5 103.8,394.3 105,385.9 107.4,371 109.8,372.2 112.2,369.2 115.1,368 118.2,365.6 122.6,372.2 127.2,366.8 131.7,357.6 136.3,327.7 140.5,318.9 145.2,343 149.3,336 154,313.6 158.4,305.5 163,303.6 167.4,306.6 171.4,303.6 176.2,275 185.2,237 189.3,269.6 193.8,293.1 198.4,240.7 202.9,275.7 207,291 211.6,287.2 216,302.3 220.6,312 224.8,319.7 229.4,328.1 233.8,338.4 238.1,352.1 242.5,360.5 246.8,365.3 251.3,368.3 251,380.7 255.6,374.4 259.9,375.7 264.4,372.3 269,369.4 273.5,367.2 278.1,361.4 282.6,356.6 287.1,350.7 291.2,345.8 295.5,345.8 300,350.1 304.5,351.2 309,348.9 313.5,345.3 317.6,339" fill="none" stroke="#cdc80a" stroke-width="0.8"/><path d="M103.8 394.3h0M105 385.9h0M107.4 371h0M109.8 372.2h0M112.2 369.2h0M115.1 368h0M118.2 365.6h0M122.6 372.2h0M127.2 366.8h0M131.7 357.6h0M136.3 327.7h0M140.5 318.9h0M145.2 343h0M149.3 336h0M154 313.6h0M158.4 305.5h0M163 303.6h0M167.4 306.6h0M171.4 303.6h0M176.2 275h0M185.2 237h0M189.3 269.6h0M193.8 293.1h0M198.4 240.7h0M202.9 275.7h0M207 291h0M211.6 287.2h0M216 302.3h0M220.6 312h0M224.8 319.7h0M229.4 328.1h0M233.8 338.4h0M238.1 352.1h0M242.5 360.5h0M246.8 365.3h0M251.3 368.3h0M251 380.7h0M255.6 374.4h0M259.9 375.7h0M264.4 372.3h0M269 369.4h0M273.5 367.2h0M278.1 361.4h0M282.6 356.6h0M287.1 350.7h0M291.2 345.8h0M295.5 345.8h0M300 350.1h0M304.5 351.2h0M309 348.9h0M313.5 345.3h0M317.6 339h0" fill="none" stroke="#cdc80a" stroke-width="3" stroke-linecap="round"/>
<polyline points="66.3,402 68.3,407 70.2,409.9 72.6,412 74.4,413 76.5,415 78.7,415.6 80.8,415.3 83.5,414.8 86.5,414 88.5,413.2 90.4,405.6 92.8,405.6 95.5,404 97.8,399 102,375.1 103.8,384.1 105.6,362.9 106.8,398 108.8,398.3 111.3,395 114,394.7 116.2,392.8 118.1,388.9" fill="none" stroke="#3a3a3a" stroke-width="0.8"/><path d="M66.3 402h0M68.3 407h0M70.2 409.9h0M72.6 412h0M74.4 413h0M76.5 415h0M78.7 415.6h0M80.8 415.3h0M83.5 414.8h0M86.5 414h0M88.5 413.2h0M90.4 405.6h0M92.8 405.6h0M95.5 404h0M97.8 399h0M102 375.1h0M103.8 384.1h0M105.6 362.9h0M106.8 398h0M108.8 398.3h0M111.3 395h0M114 394.7h0M116.2 392.8h0M118.1 388.9h0" fill="none" stroke="#3a3a3a" stroke-width="3" stroke-linecap="round"/>
<polyline points="65.6,412.8 67.5,413.5 70,414.3 72.5,415.3 75,416.6 78,418.6 82,419.8 86,420.1 90,420.2 94,420.2 97.6,419.8 101,418.5" fill="none" stroke="#ff7434" stroke-width="2.7" stroke-linecap="round" stroke-linejoin="round"/><polyline points="101,418.5 104,415.8 107,413 110.6,409.9 115,406.9 119.1,406.3 122.7,405.8 127.2,406.6 131.8,402.8 136,397.4 140.5,398 145,397.2 149.5,396 154,398.1 158.5,398.1 162.6,395.2 167.1,391.8 171.5,389.2 175.8,387.2 180.6,386.2" fill="none" stroke="#ff7434" stroke-width="0.8"/><path d="M104 415.8h0M107 413h0M110.6 409.9h0M115 406.9h0M119.1 406.3h0M122.7 405.8h0M127.2 406.6h0M131.8 402.8h0M136 397.4h0M140.5 398h0M145 397.2h0M149.5 396h0M154 398.1h0M158.5 398.1h0M162.6 395.2h0M167.1 391.8h0M171.5 389.2h0M175.8 387.2h0M180.6 386.2h0" fill="none" stroke="#ff7434" stroke-width="3" stroke-linecap="round"/><polyline points="189.3,378.2 193.7,371.8 198.2,381.7 202.8,383.2 207.4,383 211.6,365.7 216.1,369 220.5,382.2 224.8,393 228.8,399.6 233.1,403.2 237.8,405.6 242.1,407.7 246.7,409.4 251,410.3 255.5,410.8 260,411.1 264.4,411.3 268.7,411.4 273.4,411.4 277.7,411.2 282.4,410.9 286.7,410.6 291.3,410.2 295.5,409.9 300.2,409.4 304.4,409.3 308.6,407" fill="none" stroke="#ff7434" stroke-width="0.8"/><path d="M189.3 378.2h0M193.7 371.8h0M198.2 381.7h0M202.8 383.2h0M207.4 383h0M211.6 365.7h0M216.1 369h0M220.5 382.2h0M224.8 393h0M228.8 399.6h0M233.1 403.2h0M237.8 405.6h0M242.1 407.7h0M246.7 409.4h0M251 410.3h0M255.5 410.8h0M260 411.1h0M264.4 411.3h0M268.7 411.4h0M273.4 411.4h0M277.7 411.2h0M282.4 410.9h0M286.7 410.6h0M291.3 410.2h0M295.5 409.9h0M300.2 409.4h0M304.4 409.3h0M308.6 407h0" fill="none" stroke="#ff7434" stroke-width="3" stroke-linecap="round"/><polyline points="66.2,415.6 69,416.3 72,417.1" fill="none" stroke="#ff7434" stroke-width="2.9" stroke-linecap="round" stroke-linejoin="round"/>
<polyline points="80.5,416.5 83,416.3 86,415.8 88.5,414.5 91,412.3 93.5,410 95.5,409.5 97.5,412.5 99.5,414.5 102,414.8 104,414.6" fill="none" stroke="#8a2cf2" stroke-width="2.7" stroke-linecap="round" stroke-linejoin="round"/><polyline points="104,414.6 106.2,414 110.2,411 114.3,409.2 118.2,408.1 122.4,409 127,406.7 131.4,408.5 135.9,410.2 140.5,407.3 145,400.8 149.5,403.9 154,404.9 158.5,401.3" fill="none" stroke="#8a2cf2" stroke-width="0.8"/><path d="M106.2 414h0M110.2 411h0M114.3 409.2h0M118.2 408.1h0M122.4 409h0M127 406.7h0M131.4 408.5h0M135.9 410.2h0M140.5 407.3h0M145 400.8h0M149.5 403.9h0M154 404.9h0M158.5 401.3h0" fill="none" stroke="#8a2cf2" stroke-width="3" stroke-linecap="round"/>
<polyline points="74.5,418.6 77,419.4 80,420 84,420.2 88,420.3 92,420.4 96,420.3 100,419.8 101.5,419.2" fill="none" stroke="#80f808" stroke-width="2.7" stroke-linecap="round" stroke-linejoin="round"/><polyline points="101.5,419.2 104.5,417 108,413.5 112.5,406.8 114.8,400.6 118.1,397.2 122.6,401.3 127.1,393.8 131.6,402.1 136,383.9 140.5,390 145.3,388.8 149.4,388.2 154.2,380.2" fill="none" stroke="#80f808" stroke-width="0.8"/><path d="M104.5 417h0M108 413.5h0M112.5 406.8h0M114.8 400.6h0M118.1 397.2h0M122.6 401.3h0M127.1 393.8h0M131.6 402.1h0M136 383.9h0M140.5 390h0M145.3 388.8h0M149.4 388.2h0M154.2 380.2h0" fill="none" stroke="#80f808" stroke-width="3" stroke-linecap="round"/><path d="M171.6 373.8h0" fill="none" stroke="#80f808" stroke-width="3" stroke-linecap="round"/><polyline points="251.3,386.8 255.8,402.3 260.3,406.8 264.4,407.7 268.7,408.6 273.4,409.5 277.7,409.9 282.4,410.4 286.7,410.6 291.3,411 295.5,413.3 300.2,414.6 304.4,415 308.6,414.5 313.4,414.1 317.5,412.6" fill="none" stroke="#80f808" stroke-width="0.8"/><path d="M251.3 386.8h0M255.8 402.3h0M260.3 406.8h0M264.4 407.7h0M268.7 408.6h0M273.4 409.5h0M277.7 409.9h0M282.4 410.4h0M286.7 410.6h0M291.3 411h0M295.5 413.3h0M300.2 414.6h0M304.4 415h0M308.6 414.5h0M313.4 414.1h0M317.5 412.6h0" fill="none" stroke="#80f808" stroke-width="3" stroke-linecap="round"/>
<polyline points="171.5,371.4 176.1,358.2 180.8,364.8 185.1,363.2 189.6,362.3 194.1,363.3 198.3,362 202.8,359.4 207.3,363 211.8,363 215.9,349.4 220.4,368.6 224.9,369.9 229.3,380.2 233.6,370 238.1,358.2 242.6,385.3 246.8,392.5 251.3,385.3 255.8,382.9 260.3,380.4 264.4,380.8 268.7,382.2 273.4,387.4 282.4,387.1 286.7,393.4 291.3,396 295.6,392.2 300.1,387.7 304.2,389.1 308.6,394.1 313.4,398 317.5,402.2" fill="none" stroke="#000000" stroke-width="0.8"/><path d="M171.5 371.4h0M176.1 358.2h0M180.8 364.8h0M185.1 363.2h0M189.6 362.3h0M194.1 363.3h0M198.3 362h0M202.8 359.4h0M207.3 363h0M211.8 363h0M215.9 349.4h0M220.4 368.6h0M224.9 369.9h0M229.3 380.2h0M233.6 370h0M238.1 358.2h0M242.6 385.3h0M246.8 392.5h0M251.3 385.3h0M255.8 382.9h0M260.3 380.4h0M264.4 380.8h0M268.7 382.2h0M273.4 387.4h0M282.4 387.1h0M286.7 393.4h0M291.3 396h0M295.6 392.2h0M300.1 387.7h0M304.2 389.1h0M308.6 394.1h0M313.4 398h0M317.5 402.2h0" fill="none" stroke="#000000" stroke-width="3" stroke-linecap="round"/>
<line x1="74.5" y1="219" x2="74.5" y2="429" stroke="#000" stroke-width="1" stroke-dasharray="1.3,1.9"/>
<line x1="89" y1="219" x2="89" y2="429" stroke="#000" stroke-width="1" stroke-dasharray="1.3,1.9"/>
<rect x="51.5" y="218.5" width="276" height="211" fill="none" stroke="#000" stroke-width="1"/>
<path d="M54.5 429.5v-5M54.5 218.5v5M63.5 429.5v-3M63.5 218.5v3M72.5 429.5v-3M72.5 218.5v3M81.5 429.5v-3M81.5 218.5v3M90.5 429.5v-3M90.5 218.5v3M99.5 429.5v-5M99.5 218.5v5M108.5 429.5v-3M108.5 218.5v3M117.5 429.5v-3M117.5 218.5v3M126.5 429.5v-3M126.5 218.5v3M135.5 429.5v-3M135.5 218.5v3M144.5 429.5v-5M144.5 218.5v5M153.5 429.5v-3M153.5 218.5v3M162.5 429.5v-3M162.5 218.5v3M171.5 429.5v-3M171.5 218.5v3M180.5 429.5v-3M180.5 218.5v3M189.5 429.5v-5M189.5 218.5v5M198.5 429.5v-3M198.5 218.5v3M207.5 429.5v-3M207.5 218.5v3M216.5 429.5v-3M216.5 218.5v3M225.5 429.5v-3M225.5 218.5v3M234.5 429.5v-5M234.5 218.5v5M243.5 429.5v-3M243.5 218.5v3M252.5 429.5v-3M252.5 218.5v3M261.5 429.5v-3M261.5 218.5v3M270.5 429.5v-3M270.5 218.5v3M279.5 429.5v-5M279.5 218.5v5M288.5 429.5v-3M288.5 218.5v3M297.5 429.5v-3M297.5 218.5v3M306.5 429.5v-3M306.5 218.5v3M315.5 429.5v-3M315.5 218.5v3M324.5 429.5v-5M324.5 218.5v5M51.5 426.4h6M327.5 426.4h-6M51.5 417.85h3M327.5 417.85h-3M51.5 409.3h3M327.5 409.3h-3M51.5 400.75h3M327.5 400.75h-3M51.5 392.2h6M327.5 392.2h-6M51.5 383.65h3M327.5 383.65h-3M51.5 375.1h3M327.5 375.1h-3M51.5 366.55h3M327.5 366.55h-3M51.5 358h6M327.5 358h-6M51.5 349.45h3M327.5 349.45h-3M51.5 340.9h3M327.5 340.9h-3M51.5 332.35h3M327.5 332.35h-3M51.5 323.8h6M327.5 323.8h-6M51.5 315.25h3M327.5 315.25h-3M51.5 306.7h3M327.5 306.7h-3M51.5 298.15h3M327.5 298.15h-3M51.5 289.6h6M327.5 289.6h-6M51.5 281.05h3M327.5 281.05h-3M51.5 272.5h3M327.5 272.5h-3M51.5 263.95h3M327.5 263.95h-3M51.5 255.4h6M327.5 255.4h-6M51.5 246.85h3M327.5 246.85h-3M51.5 238.3h3M327.5 238.3h-3M51.5 229.75h3M327.5 229.75h-3M51.5 221.2h6M327.5 221.2h-6" stroke="#000" stroke-width="1" fill="none"/>
<text transform="translate(47.9,430.3) scale(1.06,1)" text-anchor="end" font-size="10.7" fill="#000">0.000</text>
<text transform="translate(47.9,396.1) scale(1.06,1)" text-anchor="end" font-size="10.7" fill="#000">0.002</text>
<text transform="translate(47.9,361.9) scale(1.06,1)" text-anchor="end" font-size="10.7" fill="#000">0.004</text>
<text transform="translate(47.9,327.7) scale(1.06,1)" text-anchor="end" font-size="10.7" fill="#000">0.006</text>
<text transform="translate(47.9,293.5) scale(1.06,1)" text-anchor="end" font-size="10.7" fill="#000">0.008</text>
<text transform="translate(47.9,259.3) scale(1.06,1)" text-anchor="end" font-size="10.7" fill="#000">0.010</text>
<text transform="translate(47.9,225.1) scale(1.06,1)" text-anchor="end" font-size="10.7" fill="#000">0.012</text>
<text transform="translate(54.5,443.4) scale(1.06,1)" text-anchor="middle" font-size="10.8" fill="#000">0</text>
<text transform="translate(99.5,443.4) scale(1.06,1)" text-anchor="middle" font-size="10.8" fill="#000">50</text>
<text transform="translate(144.5,443.4) scale(1.06,1)" text-anchor="middle" font-size="10.8" fill="#000">100</text>
<text transform="translate(189.5,443.4) scale(1.06,1)" text-anchor="middle" font-size="10.8" fill="#000">150</text>
<text transform="translate(234.5,443.4) scale(1.06,1)" text-anchor="middle" font-size="10.8" fill="#000">200</text>
<text transform="translate(279.5,443.4) scale(1.06,1)" text-anchor="middle" font-size="10.8" fill="#000">250</text>
<text transform="translate(324.5,443.4) scale(1.06,1)" text-anchor="middle" font-size="10.8" fill="#000">300</text>
<text transform="translate(109.4,242.8) scale(1.1,1)" font-size="14.4" fill="#000">(b)</text>
<text transform="translate(175.6,460.2) scale(1.04,1)" font-size="11.4" fill="#000"><tspan font-style="italic">T</tspan><tspan x="13.5">(K)</tspan></text>
<g transform="translate(14.0,0) rotate(-90)" font-size="11.2" fill="#000"><text x="-316.2" y="0">Q</text><text x="-308.0" y="-7.4" font-size="7.6">-1</text></g>
<line x1="252.7" y1="233.9" x2="268.8" y2="233.9" stroke="#0a8c0a" stroke-width="1.7" stroke-opacity="0.7"/>
<circle cx="260.7" cy="233.9" r="1.6" fill="#0a8c0a"/>
<text transform="translate(271.5,236.64) scale(1.1,1)" font-size="7.6" fill="#000">272 kHz</text>
<line x1="252.7" y1="243.15" x2="268.8" y2="243.15" stroke="#1a2ee0" stroke-width="1.7" stroke-opacity="0.7"/>
<circle cx="260.7" cy="243.15" r="1.6" fill="#1a2ee0"/>
<text transform="translate(271.5,245.89) scale(1.1,1)" font-size="7.6" fill="#000">310 kHz</text>
<line x1="252.7" y1="252.4" x2="268.8" y2="252.4" stroke="#ff1ee0" stroke-width="1.7" stroke-opacity="0.7"/>
<circle cx="260.7" cy="252.4" r="1.6" fill="#ff1ee0"/>
<text transform="translate(271.5,255.14) scale(1.1,1)" font-size="7.6" fill="#000">399 kHz</text>
<line x1="252.7" y1="261.65" x2="268.8" y2="261.65" stroke="#9c0a44" stroke-width="1.7" stroke-opacity="0.7"/>
<circle cx="260.7" cy="261.65" r="1.6" fill="#9c0a44"/>
<text transform="translate(271.5,264.39) scale(1.1,1)" font-size="7.6" fill="#000">560 kHz</text>
<line x1="252.7" y1="270.9" x2="268.8" y2="270.9" stroke="#10f0ff" stroke-width="1.7" stroke-opacity="0.7"/>
<circle cx="260.7" cy="270.9" r="1.6" fill="#10f0ff"/>
<text transform="translate(271.5,273.64) scale(1.1,1)" font-size="7.6" fill="#000">840 kHz</text>
<line x1="252.7" y1="280.15" x2="268.8" y2="280.15" stroke="#cdc80a" stroke-width="1.7" stroke-opacity="0.7"/>
<circle cx="260.7" cy="280.15" r="1.6" fill="#cdc80a"/>
<text transform="translate(271.5,282.89) scale(1.1,1)" font-size="7.6" fill="#000">850 kHz</text>
<line x1="252.7" y1="289.4" x2="268.8" y2="289.4" stroke="#3a3a3a" stroke-width="1.7" stroke-opacity="0.7"/>
<circle cx="260.7" cy="289.4" r="1.6" fill="#3a3a3a"/>
<text transform="translate(271.5,292.14) scale(1.1,1)" font-size="7.6" fill="#000">900 kHz</text>
<line x1="252.7" y1="298.65" x2="268.8" y2="298.65" stroke="#ff7434" stroke-width="1.7" stroke-opacity="0.7"/>
<circle cx="260.7" cy="298.65" r="1.6" fill="#ff7434"/>
<text transform="translate(271.5,301.39) scale(1.1,1)" font-size="7.6" fill="#000">940 kHz</text>
<line x1="252.7" y1="307.9" x2="268.8" y2="307.9" stroke="#8a2cf2" stroke-width="1.7" stroke-opacity="0.7"/>
<circle cx="260.7" cy="307.9" r="1.6" fill="#8a2cf2"/>
<text transform="translate(271.5,310.64) scale(1.1,1)" font-size="7.6" fill="#000">980 kHz</text>
<line x1="252.7" y1="317.15" x2="268.8" y2="317.15" stroke="#80f808" stroke-width="1.7" stroke-opacity="0.7"/>
<circle cx="260.7" cy="317.15" r="1.6" fill="#80f808"/>
<text transform="translate(271.5,319.89) scale(1.1,1)" font-size="7.6" fill="#000">1040 kHz</text>
<line x1="252.7" y1="326.4" x2="268.8" y2="326.4" stroke="#000000" stroke-width="1.7" stroke-opacity="0.7"/>
<circle cx="260.7" cy="326.4" r="1.6" fill="#000000"/>
<text transform="translate(271.5,329.14) scale(1.1,1)" font-size="7.6" fill="#000">1130 kHz</text>
</svg></body></html>
